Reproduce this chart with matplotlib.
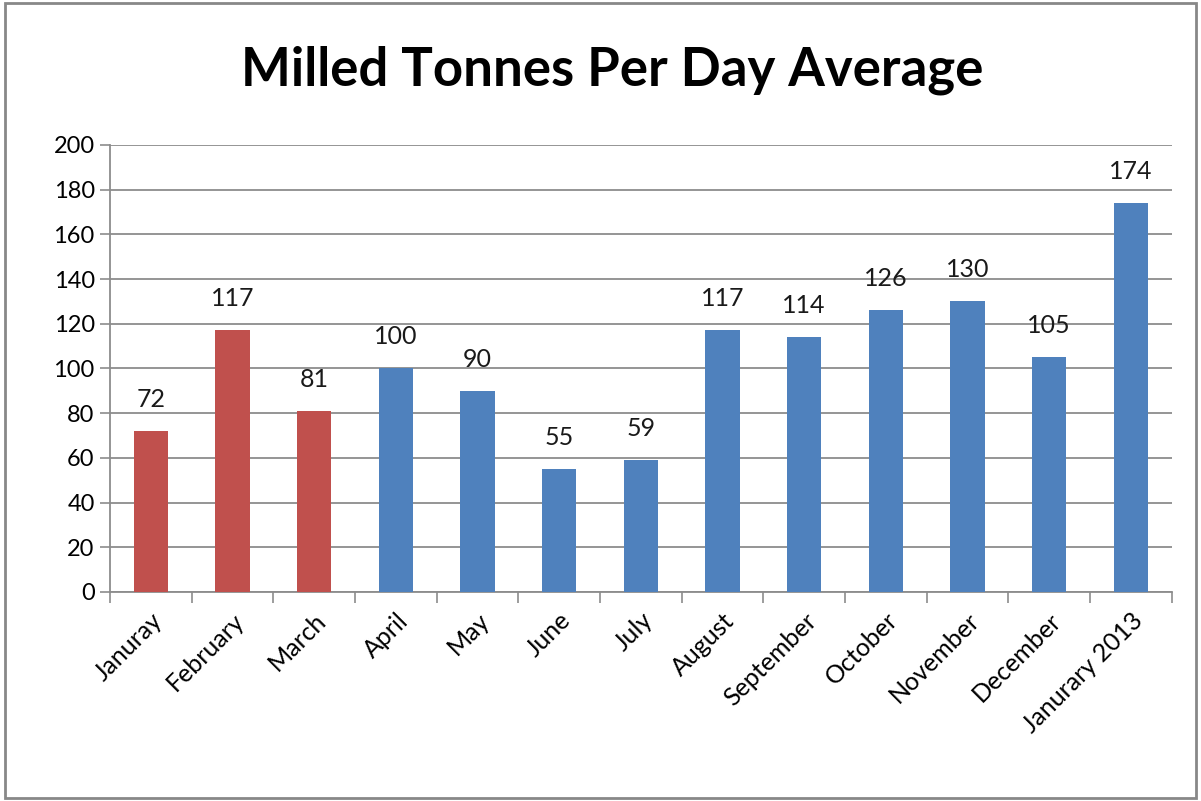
import numpy as np
import matplotlib.pyplot as plt
from matplotlib.patches import Rectangle

plt.rcParams['font.family'] = ['Lato', 'DejaVu Sans']

months = ['Januray', 'February', 'March', 'April', 'May', 'June', 'July',
          'August', 'September', 'October', 'November', 'December', 'Janurary 2013']
tonnes = [72, 117, 81, 100, 90, 55, 59, 117, 114, 126, 130, 105, 174]
colors = ['#C0504D'] * 3 + ['#4F81BD'] * 10

fig = plt.figure(figsize=(12.01, 8.01), dpi=100)
ax = fig.add_axes([0.0916, 0.261, 0.884, 0.558])

x = np.arange(len(months))
ax.bar(x, tonnes, width=0.42, color=colors, zorder=3)
for xi, v in zip(x, tonnes):
    ax.text(xi, v + 9, str(v), ha='center', va='bottom', fontsize=18, color='#1a1a1a')

ax.set_xlim(-0.5, len(months) - 0.5)
ax.set_ylim(0, 200)
ax.set_yticks(np.arange(0, 201, 20))
ax.yaxis.grid(True, color='#8c8c8c', linewidth=1.3, zorder=0)
ax.tick_params(axis='y', length=7, width=1.2, color='#8c8c8c', labelsize=17, pad=4)

ax.set_xticks(np.arange(-0.5, len(months), 1.0))
ax.set_xticklabels([])
ax.set_xticks(x, minor=True)
ax.set_xticklabels(months, minor=True, rotation=45, ha='right', rotation_mode='anchor', fontsize=18)
ax.tick_params(axis='x', which='major', length=8, width=1.2, color='#8c8c8c')
ax.tick_params(axis='x', which='minor', length=0, pad=12)

for s in ['top', 'right']:
    ax.spines[s].set_visible(False)
for s in ['left', 'bottom']:
    ax.spines[s].set_color('#8c8c8c')
    ax.spines[s].set_linewidth(1.3)

fig.text(0.51, 0.912, 'Milled Tonnes Per Day Average', ha='center', va='center',
         fontsize=38, fontweight='bold')

fig.patches.append(Rectangle((0.004, 0.004), 0.992, 0.992, transform=fig.transFigure,
                             fill=False, edgecolor='#888888', linewidth=2))

fig.savefig('out.png', dpi=100)
